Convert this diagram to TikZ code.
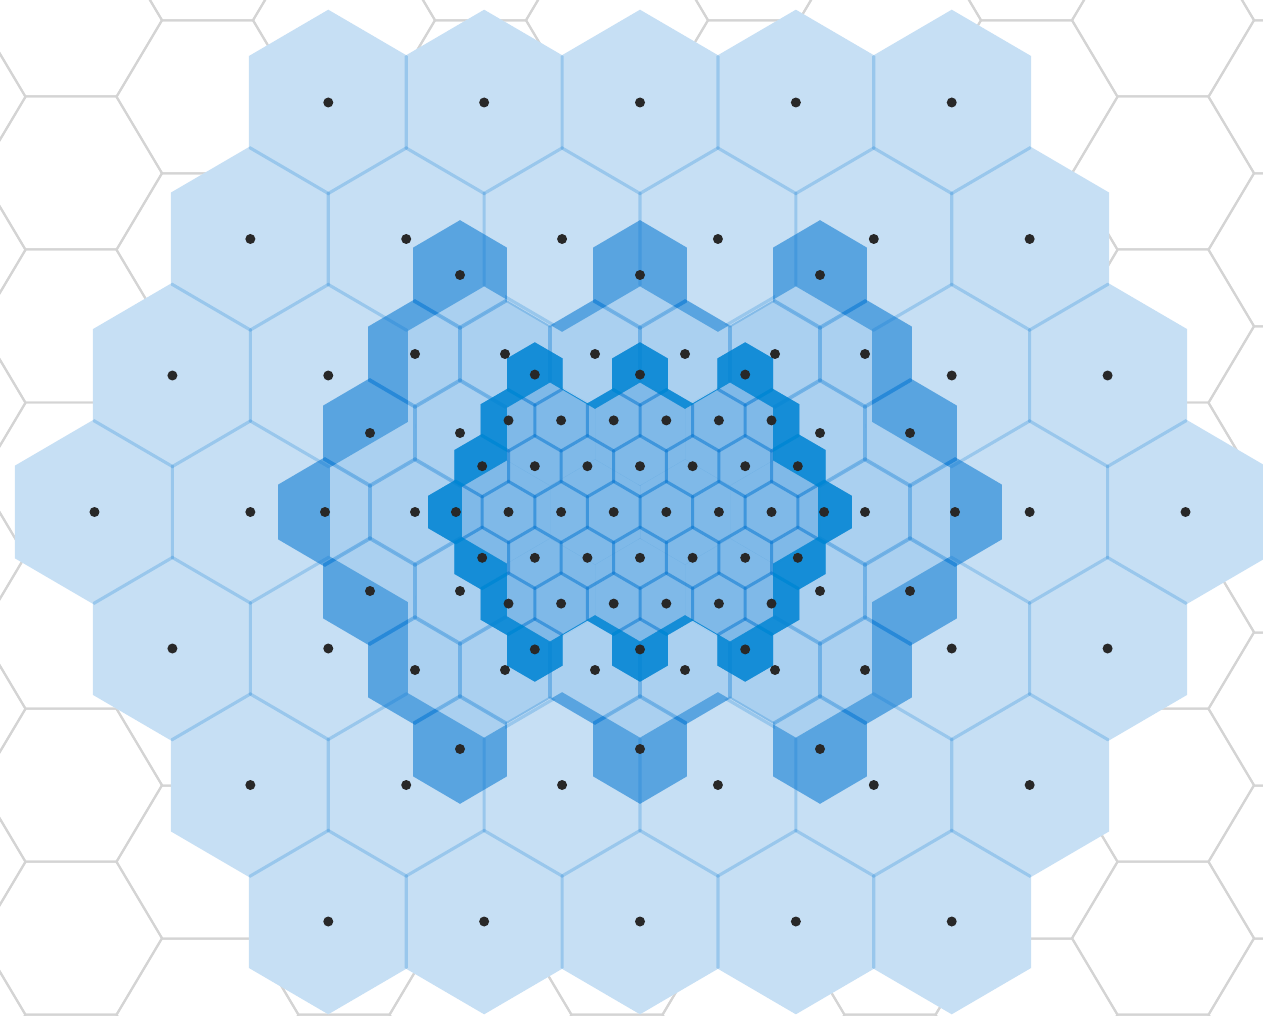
\documentclass[tikz,border=0pt]{standalone}
\usepackage{tikz}
\definecolor{cellblue}{RGB}{0,116,210}
\definecolor{deepblue}{RGB}{0,135,212}
\definecolor{gridgrey}{RGB}{212,212,212}
\definecolor{dotgrey}{RGB}{40,40,40}
\tikzset{
    hexgrid/.style={x=0.02cm, y=-0.02cm},
    gridline/.style={draw=gridgrey, line width=0.04cm, line join=round},
    bigcell/.style={fill=cellblue, fill opacity=0.224},
    midcell/.style={fill=cellblue, fill opacity=0.333},
    smallcell/.style={fill=cellblue, fill opacity=0.5},
    % extra tint where two levels lie on top of each other
    bigmid/.style={fill=cellblue, fill opacity=0.32},
    midsmall/.style={fill=deepblue, fill opacity=0.75},
    centre/.style={fill=dotgrey},
}
% pointy hexagon: centre #1,#2, half width #3, radius #4
\newcommand\hexpath[4]{({#1+#3},{#2-#4/2}) -- ++(0,{#4}) -- ++({-#3},{#4/2}) -- ++({-#3},{-#4/2}) -- ++(0,{-#4}) -- ++({#3},{-#4/2}) -- cycle}
% flat hexagon of the grid behind
\newcommand\flathex[2]{({#1+91},{#2}) -- ++(-45.5,76.5) -- ++(-91,0) -- ++(-45.5,-76.5) -- ++(45.5,-76.5) -- ++(91,0) -- cycle}
% cells as u/v: u in half columns, v in rows, from the middle
\def\ringcells{-7/0,-5/0,5/0,7/0,-6/-1,-4/-1,4/-1,6/-1,-6/1,-4/1,4/1,6/1,-5/-2,-3/-2,-1/-2,1/-2,3/-2,5/-2,-5/2,-3/2,-1/2,1/2,3/2,5/2,-4/-3,0/-3,4/-3,-4/3,0/3,4/3}
\def\innercells{-3/0,-1/0,1/0,3/0,-2/-1,0/-1,2/-1,-2/1,0/1,2/1}
\def\cornercells{-2/-3,2/-3,-2/3,2/3}
\edef\bigcells{\ringcells,\cornercells}
\edef\smallcells{\ringcells,\innercells}
\edef\allcells{\bigcells,\innercells}

\begin{document}
\begin{tikzpicture}[hexgrid]
    \clip (0,0) rectangle (1263,1016);
    \fill[white] (0,0) rectangle (1263,1016);

    % grid behind
    \foreach \k in {-1,...,9} {
        \pgfmathsetmacro\gx{71+136.5*\k}
        \pgfmathsetmacro\gy{173-76*abs(mod(\k,2))}
        \foreach \m in {-2,...,7}
            \draw[gridline] \flathex{\gx}{\gy+153*\m};
    }
    \fill[white] \foreach \u/\v in \allcells {\hexpath{640+77.93*(\u)}{512+136.5*(\v)}{79.5}{92.8}};

    % three levels
    \foreach \u/\v in \bigcells
        \fill[bigcell] \hexpath{640+77.93*(\u)}{512+136.5*(\v)}{79.5}{92.8};
    \begin{scope}[even odd rule]
        % big cells given up, only where no middle cell lies
        \clip (0,0) rectangle (1263,1016)
            \foreach \u/\v in \smallcells {\hexpath{640+45*(\u)}{512+79*(\v)}{45}{52.67}};
        \foreach \u/\v in \innercells
            \fill[bigcell] \hexpath{640+77.93*(\u)}{512+136.5*(\v)}{79.5}{92.8};
    \end{scope}
    \foreach \u/\v in \ringcells
        \fill[midcell] \hexpath{640+45*(\u)}{512+79*(\v)}{46.8}{54.8};
    \foreach \u/\v in \smallcells
        \fill[smallcell] \hexpath{640+26.3*(\u)}{512+45.8*(\v)}{27.8}{32.3};

    % overlaps
    \begin{scope}
        \clip \foreach \u/\v in \bigcells {\hexpath{640+77.93*(\u)}{512+136.5*(\v)}{79.5}{92.8}};
        \foreach \u/\v in \ringcells
            \fill[bigmid] \hexpath{640+45*(\u)}{512+79*(\v)}{46.8}{54.8};
    \end{scope}
    \begin{scope}
        \clip \foreach \u/\v in \ringcells {\hexpath{640+45*(\u)}{512+79*(\v)}{46.8}{54.8}};
        \foreach \u/\v in \smallcells
            \fill[midsmall] \hexpath{640+26.3*(\u)}{512+45.8*(\v)}{27.8}{32.3};
    \end{scope}

    % centres
    \foreach \u/\v in \bigcells
        \fill[centre] ({640+77.93*(\u)},{512+136.5*(\v)}) circle (0.1cm);
    \foreach \u/\v in \ringcells
        \fill[centre] ({640+45*(\u)},{512+79*(\v)}) circle (0.1cm);
    \foreach \u/\v in \smallcells
        \fill[centre] ({640+26.3*(\u)},{512+45.8*(\v)}) circle (0.1cm);
\end{tikzpicture}
\end{document}
